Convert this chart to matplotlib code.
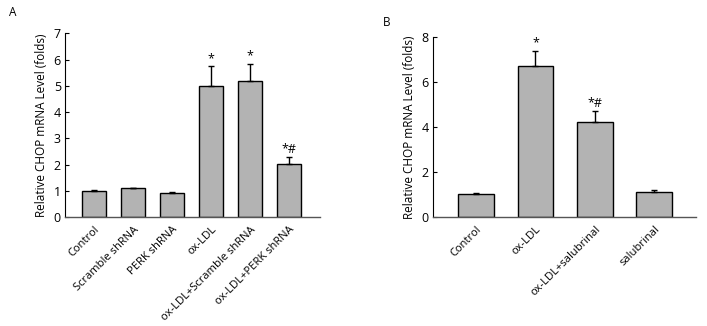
import matplotlib
matplotlib.use('Agg')
import matplotlib.pyplot as plt
import numpy as np

plt.rcParams['font.family'] = ['Open Sans', 'DejaVu Sans']

# panel A
labelsA = ['Control', 'Scramble shRNA', 'PERK shRNA', 'ox-LDL',
           'ox-LDL+Scramble shRNA', 'ox-LDL+PERK shRNA']
valuesA = [1.0, 1.09, 0.9, 5.0, 5.2, 2.03]
errorsA = [0.03, 0.03, 0.04, 0.74, 0.63, 0.25]
marksA = ['', '', '', '*', '*', '*#']

# panel B
labelsB = ['Control', 'ox-LDL', 'ox-LDL+salubrinal', 'salubrinal']
valuesB = [1.0, 6.71, 4.22, 1.09]
errorsB = [0.05, 0.68, 0.47, 0.09]
marksB = ['', '*', '*#', '']

ylabel = 'Relative CHOP mRNA Level (folds)'

fig = plt.figure(figsize=(7.07, 3.26), dpi=100)
axA = fig.add_axes([0.092, 0.334, 0.361, 0.564])
axB = fig.add_axes([0.612, 0.335, 0.373, 0.552])


def draw(ax, labels, values, errors, marks, width, ymax, ystep, xlim, offset):
    x = np.arange(len(labels))
    ax.bar(x, values, width=width, color='#b3b3b3', edgecolor='black', linewidth=1.0, zorder=2)
    ax.errorbar(x, values, yerr=[np.zeros(len(values)), errors], fmt='none',
                ecolor='black', elinewidth=1.0, capsize=2.5, capthick=1.0, zorder=3)
    for i in range(len(labels)):
        if marks[i]:
            ax.text(x[i], values[i] + errors[i] + offset, marks[i], ha='center', va='bottom',
                    fontsize=9)
    ax.set_xlim(xlim)
    ax.set_ylim(0, ymax)
    ax.set_yticks(np.arange(0, ymax + 0.01, ystep))
    ax.set_xticks(x)
    ax.set_xticklabels(labels, rotation=45, ha='right', rotation_mode='anchor', fontsize=8)
    ax.tick_params(axis='x', length=0, pad=5)
    ax.tick_params(axis='y', direction='in', length=3, labelsize=9, pad=3)
    for s in ['top', 'right']:
        ax.spines[s].set_visible(False)
    ax.spines['left'].set_linewidth(0.8)
    ax.spines['bottom'].set_linewidth(1.0)
    ax.spines['bottom'].set_color('#555555')
    ax.set_ylabel(ylabel, fontsize=8.5, labelpad=4)


draw(axA, labelsA, valuesA, errorsA, marksA, 0.63, 7, 1, (-0.74, 5.8), 0.05)
draw(axB, labelsB, valuesB, errorsB, marksB, 0.6, 8, 2, (-0.73, 3.71), 0.06)

fig.text(13 / 707, 1 - 13 / 326, 'A', fontsize=8.5, ha='center', va='center')
fig.text(387 / 707, 1 - 23 / 326, 'B', fontsize=8.5, ha='center', va='center')

fig.savefig('out.png', dpi=100)
